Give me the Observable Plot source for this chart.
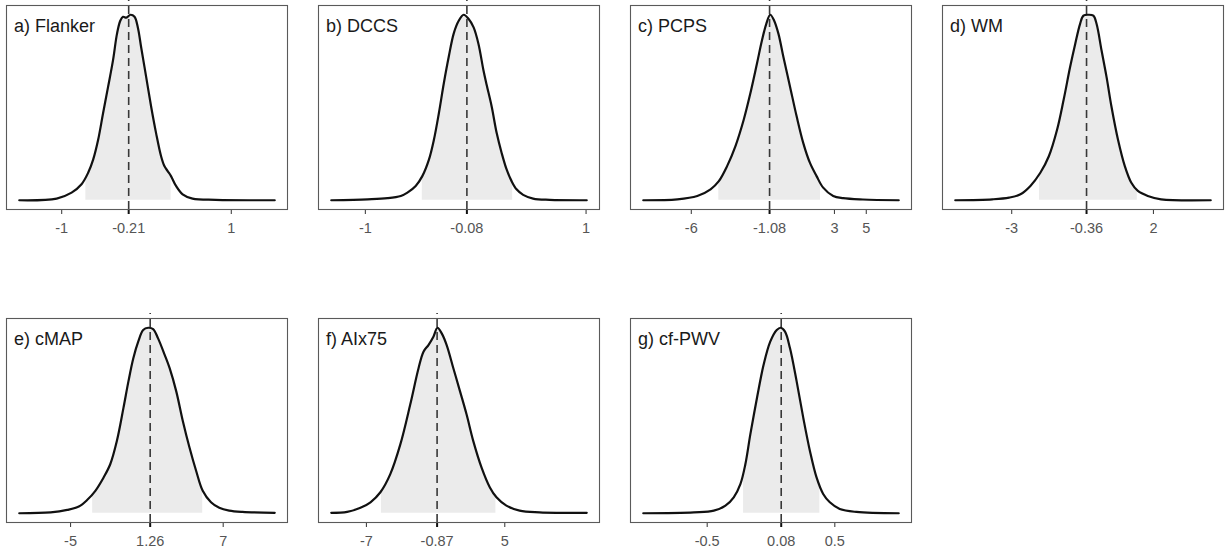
<!DOCTYPE html>
<html>
<head>
<meta charset="utf-8">
<script src="https://cdn.jsdelivr.net/npm/d3@7"></script>
<script src="https://cdn.jsdelivr.net/npm/@observablehq/plot@0.6"></script>
<style>
  html, body { margin: 0; padding: 0; background: #fff; }
  #chart { position: relative; width: 1225px; height: 550px; overflow: hidden;
           font-family: "Liberation Sans", Arial, sans-serif; }
  #chart svg { position: absolute; overflow: visible; }
</style>
</head>
<body>
<div id="chart"></div>
<script>
// Panel titles, posterior means and 95% credible intervals
const titles = ["a) Flanker", "b) DCCS", "c) PCPS", "d) WM", "e) cMAP", "f) AIx75", "g) cf-PWV"];
const means  = [-0.21, -0.08, -1.08, -0.36, 1.26, -0.87, 0.08];
const ciLow  = [-0.715, -0.484, -4.27, -2.02, -3.26, -5.70, -0.215];
const ciHigh = [0.29, 0.335, 2.12, 1.43, 5.39, 4.23, 0.383];

// Tick values and their labels per panel
const tickValues = [
  [-1, -0.21, 1],
  [-1, -0.08, 1],
  [-6, -1.08, 3, 5],
  [-3, -0.36, 2],
  [-5, 1.26, 7],
  [-7, -0.87, 5],
  [-0.5, 0.08, 0.5]
];
const tickLabels = [
  ["-1", "-0.21", "1"],
  ["-1", "-0.08", "1"],
  ["-6", "-1.08", "3", "5"],
  ["-3", "-0.36", "2"],
  ["-5", "1.26", "7"],
  ["-7", "-0.87", "5"],
  ["-0.5", "0.08", "0.5"]
];

// Posterior density curves (x = effect, y = density relative to the mode)
const flankerX = [-1.5, -1.059, -0.883, -0.766, -0.688, -0.629, -0.57, -0.512, -0.453, -0.395, -0.348, -0.309, -0.277, -0.238, -0.188, -0.141, -0.102, -0.063, -0.004, 0.055, 0.113, 0.172, 0.211, 0.25, 0.289, 0.348, 0.426, 0.543, 0.816, 1.512];
const flankerY = [0, 0.009, 0.041, 0.086, 0.148, 0.219, 0.326, 0.469, 0.611, 0.754, 0.897, 0.968, 0.989, 0.985, 1, 0.989, 0.932, 0.825, 0.665, 0.504, 0.362, 0.237, 0.184, 0.157, 0.13, 0.077, 0.032, 0.009, 0.002, 0];

const dccsX = [-1.309, -0.979, -0.799, -0.679, -0.619, -0.544, -0.484, -0.424, -0.379, -0.334, -0.289, -0.244, -0.199, -0.154, -0.109, -0.064, -0.019, 0.025, 0.07, 0.1, 0.145, 0.19, 0.235, 0.28, 0.325, 0.37, 0.43, 0.52, 0.67, 1.006];
const dccsY = [0, 0.005, 0.011, 0.023, 0.041, 0.077, 0.13, 0.219, 0.326, 0.469, 0.631, 0.775, 0.9, 0.968, 1, 0.977, 0.932, 0.843, 0.701, 0.62, 0.504, 0.362, 0.255, 0.166, 0.103, 0.059, 0.029, 0.009, 0.002, 0];

const pcpsX = [-9.02, -6.875, -5.625, -4.79, -4.27, -3.75, -3.23, -2.71, -2.29, -1.875, -1.56, -1.29, -1.04, -0.79, -0.52, -0.21, 0.21, 0.625, 1.04, 1.46, 1.875, 2.29, 2.92, 3.54, 4.79, 7.04];
const pcpsY = [0, 0.005, 0.023, 0.059, 0.103, 0.184, 0.291, 0.433, 0.576, 0.736, 0.861, 0.95, 1, 0.968, 0.897, 0.772, 0.611, 0.451, 0.308, 0.201, 0.13, 0.068, 0.023, 0.011, 0.004, 0];

const wmX = [-4.99, -3.68, -3.09, -2.69, -2.34, -1.99, -1.69, -1.4, -1.17, -0.94, -0.76, -0.59, -0.47, -0.3, -0.12, -0.005, 0.17, 0.345, 0.52, 0.75, 0.99, 1.22, 1.45, 1.8, 2.27, 4.02];
const wmY = [0, 0.005, 0.014, 0.032, 0.077, 0.148, 0.237, 0.38, 0.54, 0.718, 0.843, 0.95, 0.995, 1, 0.995, 0.95, 0.807, 0.665, 0.504, 0.326, 0.184, 0.094, 0.05, 0.023, 0.005, 0];

const cmapX = [-9.03, -6.56, -5.26, -4.35, -3.7, -3.05, -2.4, -1.88, -1.36, -0.84, -0.45, -0.065, 0.32, 0.71, 1.1, 1.49, 1.88, 2.4, 2.79, 3.31, 3.83, 4.35, 4.87, 5.39, 6.04, 6.69, 7.47, 8.51, 11.05];
const cmapY = [0, 0.005, 0.018, 0.036, 0.071, 0.121, 0.193, 0.264, 0.389, 0.568, 0.711, 0.836, 0.925, 0.988, 1, 0.993, 0.943, 0.854, 0.782, 0.657, 0.496, 0.354, 0.229, 0.121, 0.059, 0.029, 0.014, 0.007, 0.002];

const aixX = [-10.05, -8.67, -7.52, -6.65, -5.79, -4.93, -4.06, -3.2, -2.48, -2.05, -1.62, -1.19, -0.84, -0.47, -0.04, 0.54, 1.12, 1.69, 2.27, 2.99, 3.71, 4.28, 5.14, 6.29, 8.02, 12.11];
const aixY = [0.002, 0.007, 0.029, 0.059, 0.113, 0.211, 0.371, 0.586, 0.782, 0.871, 0.907, 0.952, 1, 0.97, 0.907, 0.782, 0.657, 0.532, 0.389, 0.246, 0.139, 0.086, 0.041, 0.014, 0.005, 0.002];

const pwvX = [-1.001, -0.604, -0.448, -0.357, -0.292, -0.24, -0.201, -0.162, -0.11, -0.058, -0.006, 0.045, 0.077, 0.11, 0.149, 0.201, 0.253, 0.305, 0.357, 0.409, 0.461, 0.539, 0.669, 1.001];
const pwvY = [0, 0.005, 0.014, 0.041, 0.086, 0.157, 0.264, 0.425, 0.621, 0.8, 0.925, 0.988, 1, 0.979, 0.889, 0.711, 0.514, 0.336, 0.193, 0.104, 0.059, 0.023, 0.007, 0];

const curvesX = [flankerX, dccsX, pcpsX, wmX, cmapX, aixX, pwvX];
const curvesY = [flankerY, dccsY, pcpsY, wmY, cmapY, aixY, pwvY];

// Grid layout: 4 panels per row, each panel frame 281 x 204
const frameW = 281, frameH = 204;
const mLeft = 6, mRight = 3, mTop = 5, mBottom = 40;
const colLeft = [6, 318, 630, 942];
const rowTop = [5, 318];

// density height at v, read along the curve between its neighbouring points
function densityAt(xs, ys, v) {
  const j = Math.max(1, Math.min(xs.length - 1, d3.bisectLeft(xs, v)));
  const t = (v - xs[j - 1]) / (xs[j] - xs[j - 1]);
  return ys[j - 1] + t * (ys[j] - ys[j - 1]);
}

const container = document.getElementById("chart");

titles.forEach((title, i) => {
  const xs = curvesX[i], ys = curvesY[i];
  const data = xs.map((x, j) => ({x, y: ys[j]}));
  // part of the curve inside the credible interval
  const band = [{x: ciLow[i], y: densityAt(xs, ys, ciLow[i])}]
    .concat(data.filter(d => d.x > ciLow[i] && d.x < ciHigh[i]))
    .concat([{x: ciHigh[i], y: densityAt(xs, ys, ciHigh[i])}]);

  const [x0, x1] = d3.extent(xs);
  const xr = x1 - x0;
  const yMax = d3.max(ys);
  const yDomain = [-0.05 * yMax, 1.05 * yMax];
  const ySpan = yDomain[1] - yDomain[0];
  const labelOf = new Map(tickValues[i].map((v, k) => [v, tickLabels[i][k]]));
  const otherTicks = tickValues[i].filter(v => v !== means[i]);

  const chart = Plot.plot({
    width: mLeft + frameW + mRight,
    height: mTop + frameH + mBottom,
    marginLeft: mLeft, marginRight: mRight, marginTop: mTop, marginBottom: mBottom,
    style: {fontFamily: "'Liberation Sans', Arial, sans-serif", background: "transparent", overflow: "visible"},
    x: {domain: [x0 - 0.05 * xr, x1 + 0.05 * xr], axis: null},
    y: {domain: yDomain, axis: null},
    marks: [
      // shaded 95% credible interval under the curve
      Plot.areaY(band, {x: "x", y: "y", fill: "#ebebeb", curve: "catmull-rom"}),
      // posterior mean
      Plot.ruleX([means[i]], {y1: yDomain[0], y2: yDomain[1] + ySpan * 5 / frameH,
        stroke: "#383838", strokeWidth: 1.6, strokeDasharray: "8,5"}),
      Plot.line(data, {x: "x", y: "y", stroke: "#111", strokeWidth: 2.2, curve: "catmull-rom"}),
      Plot.axisX(otherTicks, {tickSize: 5, tickPadding: 8, fontSize: 14.5, fill: "#555",
        stroke: "#444", strokeWidth: 1.1, tickFormat: d => labelOf.get(d), label: null}),
      Plot.axisX([means[i]], {tickSize: 5, tickPadding: 8, fontSize: 14.5, fill: "#555",
        stroke: "#111", strokeWidth: 2, tickFormat: d => labelOf.get(d), label: null}),
      Plot.frame({stroke: "#5a5a5a", strokeWidth: 1.1}),
      Plot.text([title], {frameAnchor: "top-left", lineAnchor: "top", dx: 7.5, dy: 14,
        fontSize: 18, fill: "#1a1a1a"})
    ]
  });

  chart.style.left = (colLeft[i % 4] - mLeft) + "px";
  chart.style.top = (rowTop[Math.floor(i / 4)] - mTop) + "px";
  container.appendChild(chart);
});
</script>
</body>
</html>
